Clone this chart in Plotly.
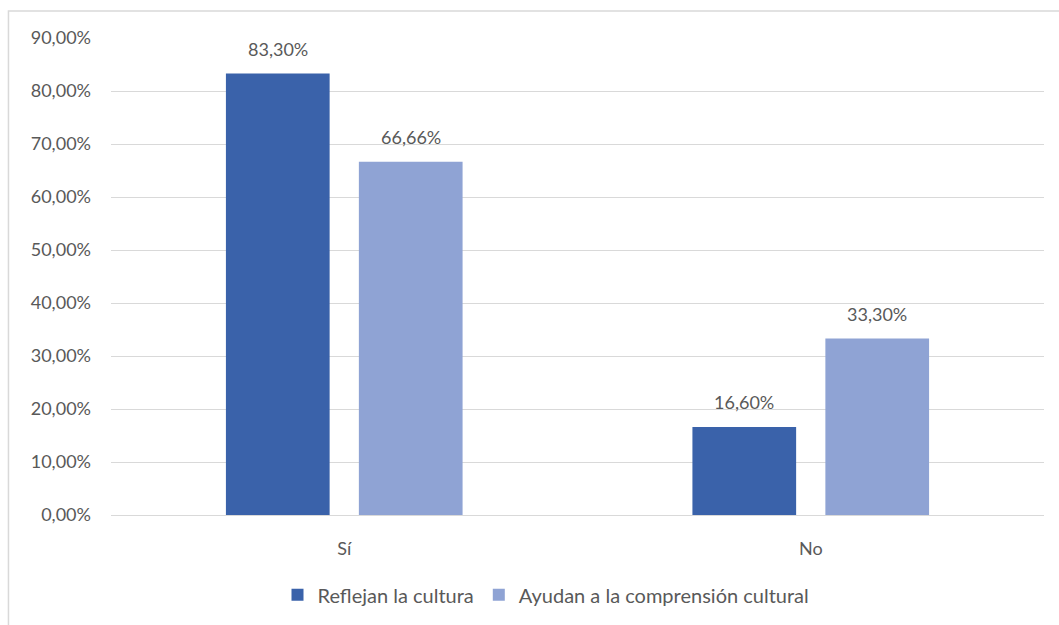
import plotly.graph_objects as go

categories = ["Sí", "No"]
series_names = ["Reflejan la cultura", "Ayudan a la comprensión cultural"]
reflejan = [83.30, 16.60]
ayudan = [66.66, 33.30]
colors = ["#3A62AA", "#8FA3D4"]

FONT = "Lato"
GRAY = "#595959"

PLOT_W = 1059 - 111 - 15
BARGAP = 0.43
SLOT = PLOT_W / len(categories) * (1 - BARGAP) / 2

fig = go.Figure()
for i, (name, vals, col) in enumerate(zip(series_names, [reflejan, ayudan], colors)):
    fig.add_trace(go.Bar(
        x=categories, y=vals, name=name,
        marker=dict(color=col, line=dict(width=0)),
        hoverinfo="skip",
    ))
    for cat, v in zip(categories, vals):
        fig.add_annotation(
            x=cat, y=v, xref="x", yref="y",
            text=f"{v:.2f}".replace(".", ",") + "%",
            showarrow=False, xanchor="center", yanchor="middle",
            xshift=(i - 0.5) * SLOT, yshift=25,
            font=dict(family=FONT, size=18, color=GRAY),
        )

fig.update_layout(
    width=1059, height=625,
    margin=dict(l=111, r=15, t=38, b=109),
    paper_bgcolor="white", plot_bgcolor="white",
    separators=",.",
    barmode="group", bargap=BARGAP, bargroupgap=0.22,
    font=dict(family=FONT, size=18, color=GRAY),
    showlegend=True,
    legend=dict(orientation="h", x=(546 - 111) / PLOT_W, xanchor="center",
                y=-0.165, yanchor="middle",
                font=dict(family=FONT, size=20, color=GRAY),
                traceorder="normal"),
)
fig.update_yaxes(range=[0, 90], dtick=10, tickformat=".2f", ticksuffix="%",
                 showgrid=True, gridcolor="#D9D9D9", gridwidth=1,
                 zeroline=False, showline=False, ticks="", ticklabelstandoff=19,
                 tickfont=dict(family=FONT, size=18, color=GRAY))
fig.update_xaxes(showline=True, linecolor="#D9D9D9", linewidth=1, ticks="",
                 ticklabelstandoff=17, tickfont=dict(family=FONT, size=18, color=GRAY))

# chart border (Excel chart area outline)
fig.add_shape(type="rect", xref="paper", yref="paper",
              x0=-0.1099, x1=1.03, y0=-0.25, y1=1.0565,
              line=dict(color="#D9D9D9", width=1.5), fillcolor="rgba(0,0,0,0)", layer="below")

fig.write_html("out.html")
